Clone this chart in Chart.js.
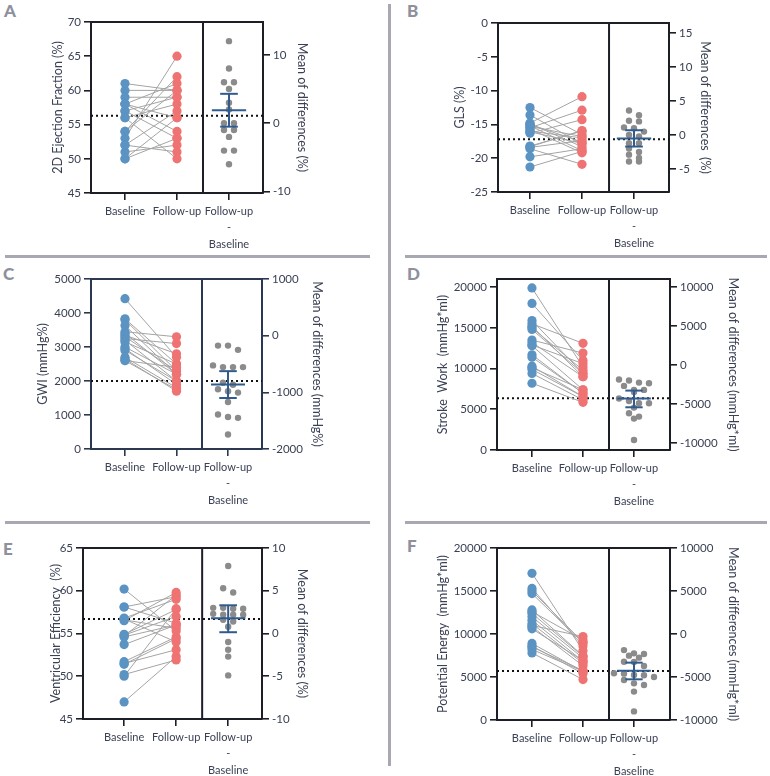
<!DOCTYPE html>
<html lang="en">
<head>
<meta charset="UTF-8">
<title>Baseline vs follow-up</title>
<script src="https://cdn.jsdelivr.net/npm/chart.js@4.4.1/dist/chart.umd.min.js"></script>
<style>
  body { margin: 0; background: #fff; }
  #page { position: relative; width: 770px; height: 776px; overflow: hidden; }
  .panel { position: absolute; }
  .panel canvas { display: block; }
  .tag { position: absolute; font: 900 17px Lato, sans-serif; line-height: 1; color: #8e909c; }
  .rule { position: absolute; background: #a7a8b2; }
</style>
</head>
<body>
<div id="page">
  <div class="rule" style="left:388px; top:4px; width:3px; height:762px;"></div>
  <div class="rule" style="left:5px; top:255px; width:365px; height:3px;"></div>
  <div class="rule" style="left:405px; top:255px; width:362px; height:3px;"></div>
  <div class="rule" style="left:5px; top:521px; width:365px; height:3px;"></div>
  <div class="rule" style="left:405px; top:521px; width:362px; height:3px;"></div>
  <div class="tag" style="left:4px; top:2px;">A</div>
  <div class="tag" style="left:407px; top:2px;">B</div>
  <div class="tag" style="left:3px; top:265px;">C</div>
  <div class="tag" style="left:407px; top:265px;">D</div>
  <div class="tag" style="left:3px; top:540px;">E</div>
  <div class="tag" style="left:407px; top:537px;">F</div>
</div>
<script>
// categories on the x axis
const xTickPos = [0, 1, 2];
const xLabels = ['Baseline', 'Follow-up', ['Follow-up', '-', 'Baseline']];

// A - 2D ejection fraction (%)
const efBaseline = [53, 54, 54, 50, 52, 50, 58, 57, 56, 51, 60, 59, 61, 52, 58, 57, 58, 56];
const efFollowUp = [65, 62, 60, 56, 57, 53, 61, 59, 58, 52, 60, 59, 60, 51, 56, 53, 54, 50];
const efDiff = [12, 8, 6, 6, 5, 3, 2, 0, 0, -1, -1, -2, -4, -4, -6];
const efStats = [1.9, -0.5, 4.3];      // mean, lower CI, upper CI
const efRef = [56.3];                  // dotted line (left axis)
const efTicks = [45, 50, 55, 60, 65, 70];
const efDiffTicks = [-10, 0, 10];

// B - GLS (%)
const glsBaseline = [-12.5, -13.6, -14.8, -15.0, -15.2, -15.5, -15.7, -16.0, -16.3, -18.2, -18.4, -18.6, -19.8, -21.3, -14.9, -15.3, -16.1, -18.3];
const glsFollowUp = [-16.5, -17.9, -10.9, -17.6, -18.9, -12.9, -19.2, -17.0, -14.3, -16.0, -17.4, -20.9, -18.6, -19.0, -18.3, -16.8, -17.8, -15.9];
const glsDiff = [3.6, 2.9, 2.1, 2.0, 1.1, 1.0, 0.5, 0.0, -0.2, -1.2, -1.2, -2.0, -2.5, -2.9, -3.4, -3.9, -3.9];
const glsStats = [-0.5, -1.7, 0.7];
const glsRef = [-17.2];
const glsTicks = [-25, -20, -15, -10, -5, 0];
const glsDiffTicks = [-5, 0, 5, 10, 15];

// C - GWI (mmHg%)
const gwiBaseline = [4420, 3830, 3800, 3630, 3450, 3400, 3350, 3300, 3250, 3200, 3150, 3000, 2950, 2900, 2700, 2650, 2600, 2600];
const gwiFollowUp = [2700, 2500, 2300, 2200, 3300, 2200, 2800, 2300, 3100, 2000, 2500, 2200, 1900, 2000, 1800, 1700, 2400, 1750];
const gwiDiff = [-175, -175, -250, -555, -555, -555, -525, -830, -865, -945, -980, -1005, -1170, -1390, -1450, -1435, -1745];
const gwiStats = [-860, -1100, -626];
const gwiRef = [2000];
const gwiTicks = [0, 1000, 2000, 3000, 4000, 5000];
const gwiDiffTicks = [-2000, -1000, 0, 1000];

// D - stroke work (mmHg*ml)
const swBaseline = [19900, 18000, 15900, 15500, 15200, 15000, 14800, 13500, 13200, 12800, 11700, 11400, 10300, 9900, 9400, 8200, 10100, 12900];
const swFollowUp = [10200, 11000, 9400, 13100, 9000, 9800, 9400, 11900, 9000, 7400, 6950, 7000, 6550, 6550, 6150, 5850, 7400, 10600];
const swDiff = [-1880, -2000, -2270, -2350, -2690, -3200, -3200, -3460, -4300, -4620, -4910, -4910, -5470, -6200, -6620, -6880, -9620];
const swStats = [-4320, -5430, -3290];
const swRef = [6340];
const swTicks = [0, 5000, 10000, 15000, 20000];
const swDiffTicks = [-10000, -5000, 0, 5000, 10000];

// E - ventricular efficiency (%)
const veBaseline = [50.0, 47.0, 54.7, 51.4, 56.5, 54.9, 51.7, 53.7, 50.2, 56.8, 54.8, 51.5, 58.1, 54.6, 56.6, 58.1, 60.2, 56.7];
const veFollowUp = [57.9, 52.3, 59.5, 54.4, 59.8, 57.8, 54.6, 56.0, 51.9, 59.0, 57.0, 53.1, 59.3, 56.0, 55.6, 56.2, 55.3, 54.0];
const veDiff = [7.9, 5.3, 4.8, 3.0, 3.0, 2.9, 2.9, 2.3, 2.2, 2.2, 2.2, 1.6, 1.4, 0.8, -1.0, -1.9, -2.7, -4.9];
const veStats = [1.78, 0.15, 3.3];
const veRef = [56.7];
const veTicks = [45, 50, 55, 60, 65];
const veDiffTicks = [-10, -5, 0, 5, 10];

// F - potential energy (mmHg*ml)
const peBaseline = [17060, 15300, 15000, 14700, 12800, 12400, 12000, 11600, 11200, 10850, 10600, 8900, 8600, 8500, 8200, 7800, 11000, 12600];
const peFollowUp = [8060, 8600, 9050, 8950, 7450, 7400, 7200, 6830, 6600, 6300, 6900, 5650, 5400, 5750, 5680, 4700, 9700, 9300];
const peDiff = [-1870, -2250, -2330, -2520, -2750, -3220, -3250, -3720, -4570, -4610, -4770, -4800, -5000, -5350, -5740, -5930, -6700, -9000];
const peStats = [-4260, -5270, -3330];
const peRef = [5700];
const peTicks = [0, 5000, 10000, 15000, 20000];
const peDiffTicks = [-10000, -5000, 0, 5000, 10000];

const BLUE = '#5b93c2';
const RED = '#ef7372';
const GREY = '#8b8b8b';
const BAR = '#2f5b8e';
const TEXT = '#3a4154';

Chart.defaults.font.family = 'Lato, "Open Sans", sans-serif';
Chart.defaults.color = TEXT;

// cell = canvas box, plot = chart area (left, right, top, bottom), titleX = centres of the two axis titles
const panels = [
  { title: '2D Ejection Fraction (%)', diffTitle: 'Mean of differences (%)',
    base: efBaseline, follow: efFollowUp, diff: efDiff, stats: efStats, ref: efRef, ticks: efTicks, diffTicks: efDiffTicks,
    y: [45, 70], y2: [-10.2, 14.8], x: [-0.654, 2.654, 1.5],
    cell: [0, 0, 385, 255], plot: [91, 263, 22, 193], titleX: [58, 302], axis: '#1c1f26' },
  { title: 'GLS (%)', diffTitle: 'Mean of differences  (%)',
    base: glsBaseline, follow: glsFollowUp, diff: glsDiff, stats: glsStats, ref: glsRef, ticks: glsTicks, diffTicks: glsDiffTicks,
    y: [-25, 0], y2: [-8.4, 16.5], x: [-0.615, 2.673, 1.52],
    cell: [392, 0, 378, 255], plot: [498, 669, 23, 192], titleX: [460, 705], axis: '#1c1f26' },
  { title: 'GWI (mmHg%)', diffTitle: 'Mean of differences (mmHg%)',
    base: gwiBaseline, follow: gwiFollowUp, diff: gwiDiff, stats: gwiStats, ref: gwiRef, ticks: gwiTicks, diffTicks: gwiDiffTicks,
    y: [0, 5000], y2: [-2000, 1000], x: [-0.66, 2.66, 1.495],
    cell: [0, 258, 385, 262], plot: [91, 262, 279, 449], titleX: [43, 317], axis: '#2c3850' },
  { title: 'Stroke  Work  (mmHg*ml)', diffTitle: 'Mean of differences (mmHg*ml)',
    base: swBaseline, follow: swFollowUp, diff: swDiff, stats: swStats, ref: swRef, ticks: swTicks, diffTicks: swDiffTicks,
    y: [0, 21000], y2: [-10900, 11000], x: [-0.686, 2.706, 1.51],
    cell: [392, 258, 378, 262], plot: [497, 670, 279, 450], titleX: [443, 733], axis: '#1c1f26' },
  { title: 'Ventricular Efficiency  (%)', diffTitle: 'Mean of differences (%)',
    base: veBaseline, follow: veFollowUp, diff: veDiff, stats: veStats, ref: veRef, ticks: veTicks, diffTicks: veDiffTicks,
    y: [45, 65], y2: [-10, 10], x: [-0.79, 2.65, 1.5],
    cell: [0, 525, 385, 251], plot: [83, 262, 548, 719], titleX: [56, 302], axis: '#1c1f26' },
  { title: 'Potential Energy  (mmHg*ml)', diffTitle: 'Mean of differences (mmHg*ml)',
    base: peBaseline, follow: peFollowUp, diff: peDiff, stats: peStats, ref: peRef, ticks: peTicks, diffTicks: peDiffTicks,
    y: [0, 20000], y2: [-10000, 10000], x: [-0.686, 2.706, 1.51],
    cell: [392, 525, 378, 251], plot: [497, 670, 548, 720], titleX: [443, 733], axis: '#1c1f26' }
];

// spread the differences sideways like a column scatter: values within one dot of each other share a row
function swarm(values, centre, unitsPerPx, xPerPx) {
  const order = values.map((v, i) => i).sort((a, b) => values[b] - values[a]);
  const xs = [];
  let row = [];
  const flush = () => {
    row.forEach((idx, k) => { xs[idx] = centre + (k - (row.length - 1) / 2) * 10 * xPerPx; });
    row = [];
  };
  order.forEach(idx => {
    if (row.length && Math.abs(values[idx] - values[row[0]]) / unitsPerPx > 5) flush();
    row.push(idx);
  });
  flush();
  return values.map((v, i) => ({ x: xs[i], y: v }));
}

// dotted reference line, separator and top edge of the frame
const framePlugin = {
  id: 'frame',
  beforeDatasetsDraw(chart, args, opts) {
    const { ctx, chartArea: a, scales } = chart;
    const y = scales.y.getPixelForValue(opts.ref);
    ctx.save();
    ctx.setLineDash([2, 3]);
    ctx.lineWidth = 2;
    ctx.strokeStyle = '#111';
    ctx.beginPath();
    ctx.moveTo(a.left, y);
    ctx.lineTo(a.right, y);
    ctx.stroke();
    ctx.restore();
  },
  afterDraw(chart, args, opts) {
    const { ctx, chartArea: a, scales } = chart;
    const sx = scales.x.getPixelForValue(opts.split);
    ctx.save();
    ctx.strokeStyle = opts.color;
    ctx.lineWidth = 2;
    ctx.beginPath();
    ctx.moveTo(a.left - 1, a.top);
    ctx.lineTo(a.right + 1, a.top);
    ctx.moveTo(sx, a.top);
    ctx.lineTo(sx, a.bottom);
    ctx.stroke();
    ctx.restore();
  }
};

const page = document.getElementById('page');

function buildPanel(p) {
  const [cx, cy, cw, ch] = p.cell;
  const [pl, pr, pt, pb] = p.plot;
  const titleSize = 12.5;
  const titleOff = titleSize * 1.2 / 2;
  const yW = pl - p.titleX[0] + titleOff;
  const y2W = p.titleX[1] + titleOff - pr;
  const xH = Math.min(60, cy + ch - pb);

  const wrap = document.createElement('div');
  wrap.className = 'panel';
  wrap.style.left = cx + 'px';
  wrap.style.top = cy + 'px';
  const canvas = document.createElement('canvas');
  canvas.width = cw;
  canvas.height = ch;
  wrap.appendChild(canvas);
  page.appendChild(wrap);

  const xPerPx = (p.x[1] - p.x[0]) / (pr - pl);
  const unitsPerPx = (p.y2[1] - p.y2[0]) / (pb - pt);
  const [mean, lo, hi] = p.stats;

  const datasets = [];
  // summary bar of the differences, on top
  const bar = (pts) => ({ data: pts, yAxisID: 'y2', showLine: true, borderColor: BAR, borderWidth: 2, pointRadius: 0, order: 0 });
  datasets.push(bar([{ x: 2 - 0.33, y: mean }, { x: 2 + 0.33, y: mean }]));
  datasets.push(bar([{ x: 2, y: lo }, { x: 2, y: hi }]));
  datasets.push(bar([{ x: 2 - 0.17, y: lo }, { x: 2 + 0.17, y: lo }]));
  datasets.push(bar([{ x: 2 - 0.17, y: hi }, { x: 2 + 0.17, y: hi }]));

  datasets.push({ data: swarm(p.diff, 2, unitsPerPx, xPerPx), yAxisID: 'y2', pointRadius: 3.2,
    pointBackgroundColor: GREY, pointBorderWidth: 0, order: 1 });
  datasets.push({ data: p.base.map(v => ({ x: 0, y: v })), pointRadius: 4.6,
    pointBackgroundColor: BLUE, pointBorderWidth: 0, order: 2 });
  datasets.push({ data: p.follow.map(v => ({ x: 1, y: v })), pointRadius: 4.6,
    pointBackgroundColor: RED, pointBorderWidth: 0, order: 2 });

  // one thin line per patient
  p.base.forEach((b, i) => {
    datasets.push({ data: [{ x: 0, y: b }, { x: 1, y: p.follow[i] }], showLine: true,
      borderColor: '#a4a4a4', borderWidth: 1, pointRadius: 0, order: 5 });
  });

  const axisGrid = { drawOnChartArea: false, tickLength: 7, color: p.axis, lineWidth: 1.6 };
  const axisBorder = { color: p.axis, width: 2 };

  new Chart(canvas, {
    type: 'scatter',
    data: { datasets },
    plugins: [framePlugin],
    options: {
      responsive: false,
      animation: false,
      events: [],
      layout: { padding: { left: pl - yW - cx, right: cx + cw - pr - y2W, top: pt - cy, bottom: cy + ch - pb - xH } },
      plugins: {
        legend: { display: false },
        tooltip: { enabled: false },
        frame: { ref: p.ref[0], split: p.x[2], color: p.axis }
      },
      scales: {
        x: {
          type: 'linear', min: p.x[0], max: p.x[1],
          afterBuildTicks: s => { s.ticks = xTickPos.map(v => ({ value: v })); },
          afterFit: s => { s.height = xH; },
          ticks: { callback: v => xLabels[v], autoSkip: false, maxRotation: 0, padding: 3,
            font: { size: 11, lineHeight: 1.5 }, color: TEXT },
          grid: axisGrid, border: axisBorder
        },
        y: {
          position: 'left', min: p.y[0], max: p.y[1],
          afterBuildTicks: s => { s.ticks = p.ticks.map(v => ({ value: v })); },
          afterFit: s => { s.width = yW; },
          ticks: { callback: v => String(v), padding: 3, font: { size: 11.5 }, color: TEXT },
          grid: axisGrid, border: axisBorder,
          title: { display: true, text: p.title, padding: 0, font: { size: titleSize }, color: TEXT }
        },
        y2: {
          position: 'right', min: p.y2[0], max: p.y2[1],
          afterBuildTicks: s => { s.ticks = p.diffTicks.map(v => ({ value: v })); },
          afterFit: s => { s.width = y2W; },
          ticks: { callback: v => String(v), padding: 3, font: { size: 11.5 }, color: TEXT },
          grid: axisGrid, border: axisBorder,
          title: { display: true, text: p.diffTitle, padding: 0, font: { size: titleSize }, color: TEXT }
        }
      }
    }
  });
}

panels.forEach(buildPanel);
</script>
</body>
</html>
